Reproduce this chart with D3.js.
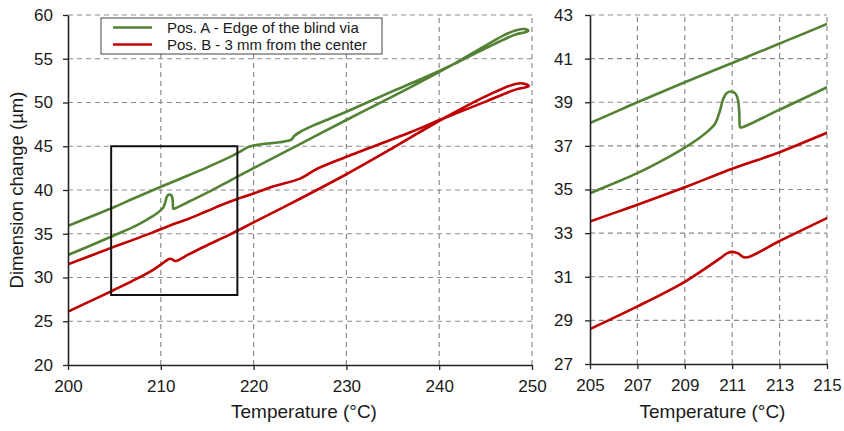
<!DOCTYPE html>
<html>
<head>
<meta charset="utf-8">
<script src="https://cdn.jsdelivr.net/npm/d3@7"></script>
<style>
body { margin: 0; background: #fff; }
svg { display: block; font-family: 'Liberation Sans', Arial, sans-serif; }
</style>
</head>
<body>
<svg id="chart" width="844" height="431"></svg>
<script>
//
// Data (temperature in °C, dimension change in µm)
//

// Pos. A - heating branch (with the bump near 211 °C)
var tempA_heat = [200, 202, 205, 206, 207, 208, 209, 209.6, 210.0, 210.27, 210.48, 210.62, 210.76, 210.97, 211.15, 211.25, 211.3, 211.34, 211.42, 213, 215, 217.42, 220, 225, 230, 235, 238, 241.5, 245, 247, 248.3, 249.2, 249.6]
var dimA_heat  = [32.57, 33.45, 34.83, 35.28, 35.75, 36.3, 36.92, 37.35, 37.7, 38.0, 38.6, 39.15, 39.41, 39.49, 39.38, 39.07, 38.5, 37.85, 37.85, 38.66, 39.69, 41.05, 42.5, 45.25, 48.0, 50.7, 52.35, 54.35, 56.5, 57.7, 58.25, 58.4, 58.2]
// Pos. A - cooling branch
var tempA_cool = [200, 205, 207, 209, 211, 213, 215, 217.42, 218.5, 219.4, 220.1, 221, 222.8, 224.06, 224.4, 224.96, 226.4, 228.2, 230, 235, 238, 241.5, 245, 248.3, 249.2]
var dimA_cool  = [35.9, 38.05, 39.0, 39.92, 40.8, 41.69, 42.59, 43.75, 44.35, 44.9, 45.1, 45.25, 45.45, 45.75, 46.2, 46.6, 47.35, 48.15, 48.95, 51.3, 52.65, 54.35, 56.2, 57.8, 58.0]

// Pos. B - heating branch
var tempB_heat = [200, 202, 205, 207, 209, 210.07, 210.48, 210.8, 211.0, 211.25, 211.55, 213, 215, 217.42, 220, 225, 230, 235, 240.5, 245, 248.3, 249.2, 249.65]
var dimB_heat  = [26.1, 27.1, 28.6, 29.64, 30.77, 31.53, 31.84, 32.08, 32.14, 32.07, 31.88, 32.64, 33.69, 34.9, 36.3, 39.0, 41.8, 44.8, 48.2, 50.7, 52.15, 52.15, 51.9]
// Pos. B - cooling branch
var tempB_cool = [200, 205, 207, 209, 211, 213, 215, 217.42, 220, 222.1, 225, 226.8, 230, 236.9, 240.5, 245, 248.3, 249.2]
var dimB_cool  = [31.5, 33.53, 34.3, 35.1, 35.95, 36.71, 37.6, 38.65, 39.6, 40.4, 41.3, 42.4, 43.8, 46.6, 48.2, 50.1, 51.5, 51.7]

var seriesNames = ['Pos. A - Edge of the blind via', 'Pos. B - 3 mm from the center']
var seriesColors = ['#548235', '#c00000']

// axes
var leftXTicks = [200, 210, 220, 230, 240, 250]
var leftYTicks = [20, 25, 30, 35, 40, 45, 50, 55, 60]
var rightXTicks = [205, 207, 209, 211, 213, 215]
var rightYTicks = [27, 29, 31, 33, 35, 37, 39, 41, 43]
// zoom window marked on the left panel
var zoomBoxT = [204.65, 218.25]
var zoomBoxD = [28, 45]

//
// Helpers
//

var svg = d3.select('#chart')
var gridColor = '#8c8c8c'

function loop(temps1, dims1, temps2, dims2) {
  // heating up to the tip, then the cooling branch back down
  var pts = temps1.map(function(t, i) { return [t, dims1[i]] })
  for (var i = temps2.length - 1; i >= 0; i--) pts.push([temps2[i], dims2[i]])
  return pts
}

var curves = [
  loop(tempA_heat, dimA_heat, tempA_cool, dimA_cool),
  loop(tempB_heat, dimB_heat, tempB_cool, dimB_cool)
]

function drawPanel(cfg) {
  var x = d3.scaleLinear().domain(d3.extent(cfg.xTicks)).range([cfg.left, cfg.right])
  var y = d3.scaleLinear().domain(d3.extent(cfg.yTicks)).range([cfg.bottom, cfg.top])
  var g = svg.append('g')

  // dashed grid
  g.append('g').selectAll('line').data(cfg.xTicks.slice(1)).enter().append('line')
    .attr('x1', function(d) { return x(d) }).attr('x2', function(d) { return x(d) })
    .attr('y1', cfg.bottom).attr('y2', cfg.top)
    .attr('stroke', gridColor).attr('stroke-width', 1.2).attr('stroke-dasharray', '5,4')
  g.append('g').selectAll('line').data(cfg.yTicks.slice(1)).enter().append('line')
    .attr('y1', function(d) { return y(d) }).attr('y2', function(d) { return y(d) })
    .attr('x1', cfg.left).attr('x2', cfg.right)
    .attr('stroke', gridColor).attr('stroke-width', 1.2).attr('stroke-dasharray', '5,4')

  // curves
  var clipId = 'clip-' + cfg.id
  svg.append('clipPath').attr('id', clipId).append('rect')
    .attr('x', cfg.left).attr('y', cfg.top)
    .attr('width', cfg.right - cfg.left).attr('height', cfg.bottom - cfg.top)
  var line = d3.line()
    .x(function(d) { return x(d[0]) })
    .y(function(d) { return y(d[1]) })
    .curve(d3.curveCatmullRom.alpha(0.5))
  g.append('g').attr('clip-path', 'url(#' + clipId + ')')
    .selectAll('path').data(curves).enter().append('path')
    .attr('d', line)
    .attr('fill', 'none')
    .attr('stroke', function(d, i) { return seriesColors[i] })
    .attr('stroke-width', 2.6)
    .attr('stroke-linejoin', 'round')

  // axes
  var ax = g.append('g').attr('transform', 'translate(0,' + cfg.bottom + ')')
    .call(d3.axisBottom(x).tickValues(cfg.xTicks).tickSize(5).tickSizeOuter(0).tickPadding(10))
  var ay = g.append('g').attr('transform', 'translate(' + cfg.left + ',0)')
    .call(d3.axisLeft(y).tickValues(cfg.yTicks).tickSize(5).tickSizeOuter(0).tickPadding(cfg.yPad))
  ;[ax, ay].forEach(function(a) {
    a.select('.domain').attr('stroke', '#222').attr('stroke-width', 1.6)
    a.selectAll('.tick line').attr('stroke', '#222').attr('stroke-width', 1.3)
    a.selectAll('.tick text').attr('fill', '#1a1a1a')
      .style('font-size', '17px').style('font-family', "'Liberation Sans', Arial, sans-serif")
  })

  g.append('text')
    .attr('x', (cfg.left + cfg.right) / 2 + 4).attr('y', 418)
    .attr('text-anchor', 'middle').attr('fill', '#1a1a1a')
    .style('font-size', '19px')
    .text('Temperature (°C)')

  return { x: x, y: y, g: g }
}

//
// Panels
//

var left = drawPanel({ id: 'left', xTicks: leftXTicks, yTicks: leftYTicks, left: 68, right: 532, top: 15, bottom: 365, yPad: 10 })
var right = drawPanel({ id: 'right', xTicks: rightXTicks, yTicks: rightYTicks, left: 590, right: 827, top: 15, bottom: 364, yPad: 12 })

// y axis title
svg.append('text')
  .attr('transform', 'translate(23,190) rotate(-90)')
  .attr('text-anchor', 'middle').attr('fill', '#1a1a1a')
  .style('font-size', '18.5px')
  .text('Dimension change (µm)')

// zoom window rectangle
left.g.append('rect')
  .attr('x', left.x(zoomBoxT[0])).attr('y', left.y(zoomBoxD[1]))
  .attr('width', left.x(zoomBoxT[1]) - left.x(zoomBoxT[0]))
  .attr('height', left.y(zoomBoxD[0]) - left.y(zoomBoxD[1]))
  .attr('fill', 'none').attr('stroke', '#111').attr('stroke-width', 2)

// legend
var legend = svg.append('g').attr('transform', 'translate(101,18)')
legend.append('rect').attr('width', 281).attr('height', 36)
  .attr('fill', '#fff').attr('stroke', '#444').attr('stroke-width', 1)
var items = legend.selectAll('g.item').data(seriesNames).enter().append('g')
  .attr('transform', function(d, i) { return 'translate(0,' + (9.5 + i * 17) + ')' })
items.append('line').attr('x1', 12).attr('x2', 51)
  .attr('stroke', function(d, i) { return seriesColors[i] }).attr('stroke-width', 2.6)
items.append('text').attr('x', 66).attr('y', 5.3)
  .attr('fill', '#1a1a1a').style('font-size', '15px')
  .text(function(d) { return d })
</script>
</body>
</html>
